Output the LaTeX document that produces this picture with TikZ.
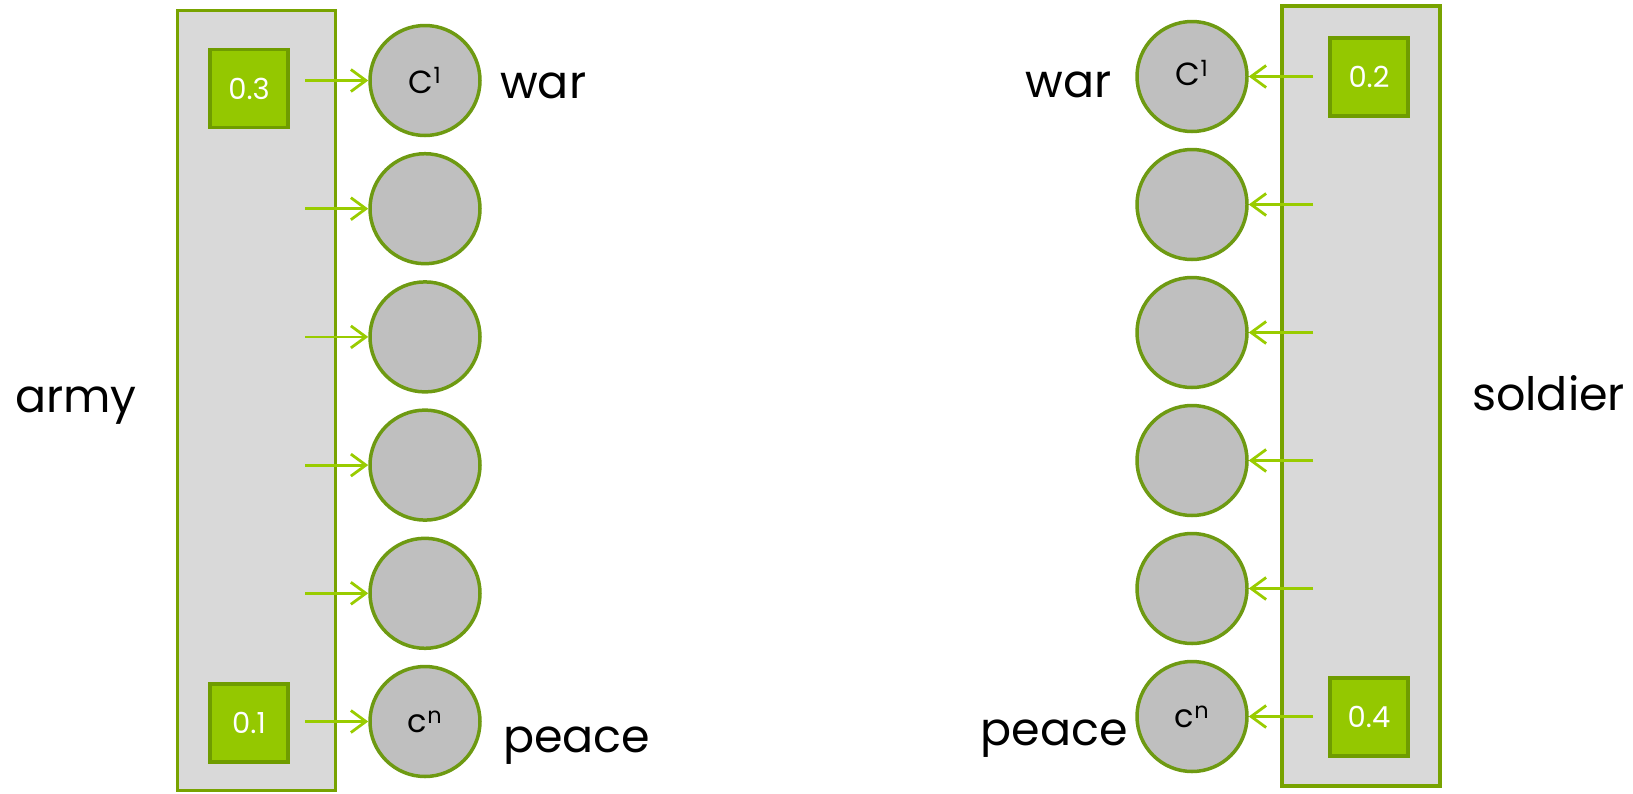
\documentclass[tikz,border=0pt]{standalone}
\usepackage{fontspec}
\setmainfont{Poppins}
\usetikzlibrary{arrows.meta}
\definecolor{rectfill}{HTML}{D9D9D9}
\definecolor{rectborder}{HTML}{78A300}
\definecolor{circfill}{HTML}{BFBFBF}
\definecolor{circborder}{HTML}{6E9A12}
\definecolor{sqfill}{HTML}{94C800}
\definecolor{sqborder}{HTML}{6F9C00}
\definecolor{arrcol}{HTML}{99CC00}
\tikzset{
  bigrect/.style={draw=rectborder, fill=rectfill, line width=3.5pt, minimum width=158pt, minimum height=780pt, inner sep=0pt},
  unit/.style={circle, draw=circborder, fill=circfill, line width=3.5pt, minimum size=110pt, inner sep=0pt, font=\fontsize{32}{34}\selectfont\addfontfeatures{}},
  weight/.style={draw=sqborder, fill=sqfill, line width=3.5pt, minimum size=78pt, inner sep=0pt, text=white, font=\fontsize{29}{31}\selectfont},
  word/.style={inner sep=0pt, font=\fontsize{46}{50}\selectfont},
  arr/.style={draw=arrcol, line width=2.8pt, -{Straight Barb[length=15pt, width=22pt, line width=2.8pt]}}
}
\begin{document}
\begin{tikzpicture}[x=1pt, y=-1pt]
\useasboundingbox (0,0) rectangle (1633,793);
% left block
\node[bigrect] (LB) at (256.5,400.5) {};
\node[weight] (W1) at (249,88.5) {0.3};
\node[weight] (W2) at (249,723) {0.1};
\foreach \i/\y in {1/80.5,2/208.7,3/336.9,4/465.1,5/593.3,6/721.5}{
  \coordinate (la\i) at (305,\y);
}
\node[unit] (L1) at (425,80.5) {C\textsuperscript{1}};
\node[unit] (L2) at (425,208.7) {};
\node[unit] (L3) at (425,336.9) {};
\node[unit] (L4) at (425,465.1) {};
\node[unit] (L5) at (425,593.3) {};
\node[unit] (L6) at (425,721.5) {c\textsuperscript{n}};
\foreach \i in {1,...,6}{ \draw[arr] (la\i) -- (L\i.west); }
\node[word, anchor=base west] (warL) at (500,98) {war};
\node[word, anchor=base west] (peaceL) at (503,752) {peace};
\node[word, anchor=base west] (army) at (15,412) {army};
% right block
\node[bigrect] (RB) at (1361,396) {};
\node[weight] (W3) at (1369,77) {0.2};
\node[weight] (W4) at (1369,717) {0.4};
\foreach \i/\y in {1/76.5,2/204.5,3/332.5,4/460.5,5/588.5,6/716.5}{
  \coordinate (ra\i) at (1313,\y);
}
\node[unit] (R1) at (1192,76.5) {\raisebox{8pt}{C\textsuperscript{1}}};
\node[unit] (R2) at (1192,204.5) {};
\node[unit] (R3) at (1192,332.5) {};
\node[unit] (R4) at (1192,460.5) {};
\node[unit] (R5) at (1192,588.5) {};
\node[unit] (R6) at (1192,716.5) {c\textsuperscript{n}};
\foreach \i in {1,...,6}{ \draw[arr] (ra\i) -- (R\i.east); }
\node[word, anchor=base east] (warR) at (1112,97) {war};
\node[word, anchor=base east] (peaceR) at (1128,745) {peace};
\node[word, anchor=base west] (soldier) at (1472,410) {soldier};
\end{tikzpicture}
\end{document}
